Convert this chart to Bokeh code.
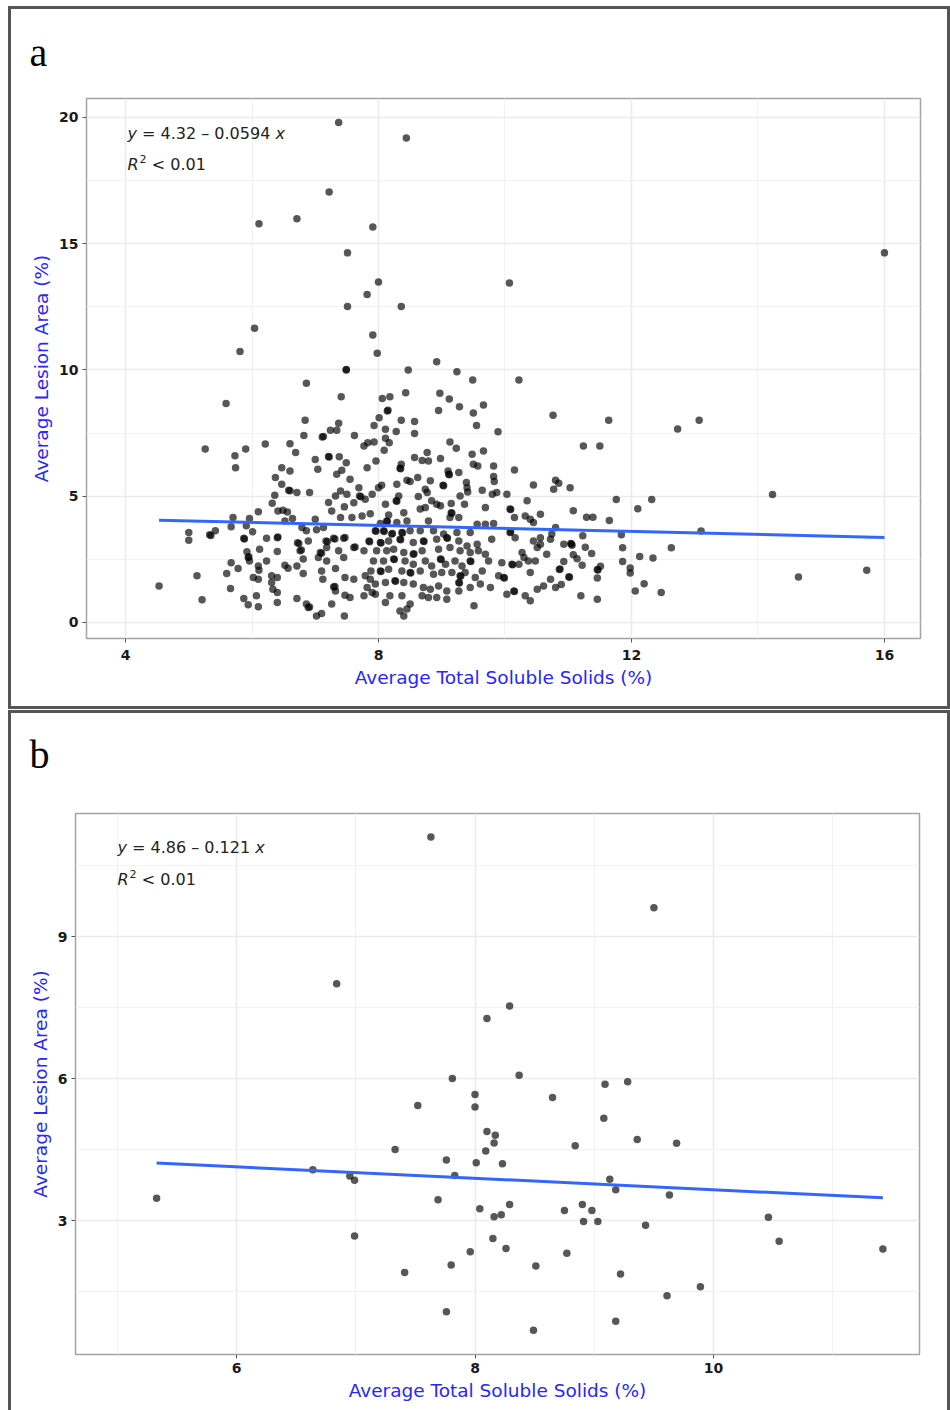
from bokeh.plotting import figure
from bokeh.models import FixedTicker, Label, LinearAxis, Spacer, Title
from bokeh.layouts import column, row
from bokeh.embed import file_html
from bokeh.resources import INLINE

# ---------------------------------------------------------------------------
# Panel a: average total soluble solids (%) vs average lesion area (%)
# ---------------------------------------------------------------------------
a_tss = [
    7.37, 8.44, 7.22, 6.11, 6.71, 7.91, 7.51, 16.00, 8.00, 10.07,
    7.82, 7.51, 8.36, 6.04, 7.91, 5.81, 7.49, 7.49, 6.86, 7.41,
    5.59, 6.84, 7.37, 7.24, 7.34, 6.82, 7.11, 7.13, 7.62, 7.93,
    7.77, 7.83, 7.93, 6.21, 5.26, 5.90, 5.73, 5.74, 6.60, 6.69,
    7.21, 7.22, 7.38, 7.49, 7.00, 7.04, 6.47, 6.60, 7.34, 7.42,
    7.82, 7.55, 6.37, 6.47, 6.58, 6.60, 6.71, 6.91, 6.36, 6.32,
    7.21, 7.32, 7.40, 7.50, 7.70, 7.72, 7.69, 7.79, 7.90, 7.46,
    7.61, 6.41, 6.49, 6.56, 6.10, 7.26, 7.40, 7.58, 7.74, 7.87,
    5.70, 5.96, 5.67, 5.91, 6.01, 6.64, 6.79, 6.86, 7.00, 7.02,
    7.13, 6.52, 5.00, 5.00, 5.33, 5.35, 5.42, 5.87, 5.88, 6.23,
    6.40, 6.41, 6.74, 6.72, 6.76, 6.78, 6.89, 7.17, 7.19, 7.18,
    7.29, 7.31, 7.45, 7.47, 7.61, 7.63, 7.77, 7.85, 7.86, 7.37,
    7.45, 6.12, 6.40, 5.92, 5.94, 5.95, 5.96, 7.08, 7.10, 7.05,
    7.18, 6.81, 5.67, 5.78, 5.60, 6.10, 6.11, 6.23, 6.52, 6.57,
    6.71, 6.81, 7.10, 7.12, 7.32, 7.47, 7.61, 7.79, 7.87, 5.13,
    6.02, 6.10, 6.31, 6.40, 6.31, 6.33, 6.40, 4.53, 5.66, 7.29,
    7.31, 7.32, 7.47, 7.55, 7.77, 6.07, 5.21, 5.87, 5.94, 6.10,
    6.40, 6.71, 6.86, 6.89, 6.91, 7.02, 7.10, 7.26, 7.46, 7.82,
    7.90, 7.98, 8.47, 8.92, 9.24, 9.49, 10.22, 8.43, 8.97, 9.12,
    8.06, 8.18, 9.28, 8.95, 9.66, 9.50, 9.55, 8.14, 8.15, 8.01,
    8.36, 8.57, 8.57, 8.11, 8.28, 9.89, 10.76, 9.13, 9.23, 8.11,
    8.17, 8.09, 8.77, 9.48, 9.66, 8.57, 8.69, 8.79, 8.98, 7.96,
    8.36, 8.34, 8.35, 9.50, 9.57, 9.82, 10.15, 9.10, 9.11, 9.12,
    9.27, 8.62, 8.50, 8.45, 8.82, 9.82, 9.83, 8.29, 9.02, 9.03,
    9.39, 9.40, 9.41, 8.05, 8.00, 8.74, 8.77, 8.32, 8.28, 8.29,
    8.63, 9.64, 9.80, 9.87, 10.03, 10.45, 10.80, 10.77, 9.29, 8.84,
    8.92, 8.98, 9.15, 9.36, 8.11, 8.16, 8.40, 8.66, 8.74, 9.15,
    9.16, 9.13, 9.27, 9.69, 10.08, 10.09, 10.15, 10.35, 10.56, 10.32,
    10.40, 10.45, 10.80, 8.03, 8.13, 8.14, 8.29, 8.45, 8.79, 9.56,
    9.69, 9.82, 7.95, 7.96, 8.08, 8.09, 8.21, 8.22, 8.37, 8.38,
    8.50, 8.66, 8.87, 9.03, 9.24, 9.45, 10.08, 10.09, 10.16, 10.56,
    10.72, 8.03, 8.04, 8.16, 8.34, 8.35, 8.55, 8.71, 8.72, 8.92,
    9.08, 9.09, 9.27, 9.40, 9.56, 9.79, 10.45, 10.56, 10.74, 7.97,
    8.13, 8.24, 8.40, 8.55, 8.56, 8.69, 8.95, 9.13, 9.29, 9.45,
    9.58, 9.69, 10.27, 10.30, 10.51, 10.66, 7.92, 8.08, 8.24, 8.25,
    8.42, 8.55, 8.74, 8.84, 8.98, 8.99, 9.06, 9.21, 9.32, 9.45,
    9.46, 9.74, 9.95, 10.11, 10.12, 10.22, 10.37, 10.48, 7.88, 8.03,
    8.04, 8.16, 8.37, 8.50, 8.51, 8.66, 8.87, 9.00, 9.16, 9.29,
    9.30, 9.37, 9.53, 9.64, 9.90, 9.98, 9.99, 10.40, 10.72, 7.95,
    8.11, 8.26, 8.27, 8.40, 8.55, 8.71, 8.82, 8.95, 9.08, 9.27,
    9.28, 9.27, 9.45, 9.61, 9.77, 10.03, 10.14, 10.15, 10.32, 10.40,
    10.51, 10.61, 10.80, 7.95, 8.11, 8.18, 8.37, 8.50, 8.45, 8.34,
    8.40, 8.69, 8.79, 8.92, 9.08, 9.51, 11.64, 12.73, 13.07, 11.24,
    11.50, 10.85, 11.03, 14.23, 11.76, 12.32, 12.10, 11.08, 11.29, 11.39,
    11.65, 11.23, 11.84, 13.10, 10.93, 11.04, 11.05, 11.06, 11.27, 11.86,
    12.63, 11.08, 11.14, 11.37, 10.93, 11.22, 11.86, 12.13, 12.34, 10.86,
    10.87, 11.01, 11.02, 10.89, 11.46, 11.47, 11.51, 11.46, 11.98, 11.98,
    12.06, 12.20, 12.47, 11.20, 11.46, 14.64, 15.72,
]
a_lesion = [
    19.80, 19.19, 17.05, 15.79, 15.99, 15.66, 14.64, 14.64, 13.48, 13.45,
    12.99, 12.51, 12.51, 11.65, 11.39, 10.73, 10.00, 10.02, 9.47, 8.94,
    8.67, 8.01, 7.89, 7.61, 7.61, 7.41, 7.35, 7.37, 7.41, 7.80,
    6.99, 7.12, 7.15, 7.07, 6.87, 6.87, 6.60, 6.13, 7.08, 6.73,
    6.57, 6.55, 6.56, 6.33, 6.46, 6.07, 6.13, 6.00, 5.87, 6.03,
    6.13, 5.67, 5.74, 5.47, 5.24, 5.22, 5.15, 5.15, 5.04, 4.72,
    4.75, 5.01, 5.21, 5.08, 5.01, 4.98, 5.34, 4.88, 5.08, 4.58,
    4.74, 4.42, 4.45, 4.38, 4.39, 4.42, 4.16, 4.16, 4.22, 4.31,
    4.16, 4.12, 3.79, 3.83, 3.59, 4.12, 3.76, 3.63, 4.09, 3.67,
    3.76, 4.02, 3.56, 3.26, 3.47, 3.45, 3.63, 3.34, 3.31, 3.34,
    3.36, 3.39, 3.13, 3.16, 2.84, 2.87, 3.23, 3.23, 3.20, 2.97,
    3.34, 3.31, 3.34, 3.37, 2.97, 2.99, 2.84, 3.23, 3.20, 2.84,
    2.57, 2.90, 2.81, 2.80, 2.57, 2.60, 2.44, 2.77, 2.74, 2.57,
    2.44, 2.51, 2.37, 2.14, 1.94, 2.24, 2.07, 2.44, 2.27, 2.15,
    2.24, 1.94, 2.04, 1.71, 2.14, 1.78, 1.71, 1.85, 1.71, 1.85,
    1.78, 1.71, 1.85, 1.78, 1.58, 1.32, 1.19, 1.45, 1.35, 1.41,
    1.43, 1.25, 1.08, 0.99, 1.06, 1.06, 0.90, 0.95, 0.70, 0.62,
    0.79, 0.95, 0.73, 0.59, 0.61, 0.26, 0.36, 0.73, 0.26, 1.39,
    1.19, 10.66, 10.00, 10.33, 9.93, 9.60, 9.60, 9.10, 9.08, 8.85,
    8.87, 8.94, 8.54, 8.40, 8.61, 8.30, 7.80, 8.38, 8.41, 8.11,
    8.01, 7.96, 7.48, 7.65, 7.56, 7.55, 8.21, 7.15, 6.90, 7.30,
    7.12, 6.82, 6.73, 6.66, 6.79, 6.53, 6.42, 6.40, 6.49, 6.40,
    6.27, 6.11, 6.09, 6.27, 6.20, 6.20, 6.04, 6.00, 5.87, 5.85,
    5.94, 5.74, 5.58, 5.63, 5.61, 5.78, 5.58, 5.47, 5.44, 5.42,
    5.54, 5.34, 5.17, 5.44, 5.34, 5.28, 5.15, 5.01, 4.82, 4.80,
    4.99, 5.24, 5.08, 5.15, 5.08, 5.45, 5.63, 5.28, 5.01, 4.82,
    4.68, 4.62, 4.71, 4.68, 4.68, 4.26, 4.35, 4.49, 4.55, 4.35,
    4.33, 4.16, 4.16, 4.55, 4.49, 4.47, 4.16, 4.82, 4.29, 4.22,
    4.09, 3.96, 3.76, 3.92, 4.02, 4.00, 3.96, 4.02, 4.02, 3.89,
    3.89, 3.92, 3.63, 3.61, 3.63, 3.60, 3.50, 3.52, 3.56, 3.54,
    3.63, 3.63, 3.63, 3.50, 3.56, 3.56, 3.56, 3.58, 3.36, 3.36,
    3.30, 3.17, 3.15, 3.23, 3.30, 3.28, 3.17, 3.23, 3.21, 3.30,
    3.36, 3.34, 3.23, 3.03, 3.10, 3.30, 3.23, 3.10, 3.50, 2.84,
    2.84, 2.90, 2.77, 2.70, 2.72, 2.84, 2.90, 2.97, 2.84, 2.77,
    2.84, 2.70, 2.77, 2.57, 2.97, 2.70, 2.44, 2.44, 2.51, 2.49,
    2.44, 2.31, 2.44, 2.24, 2.51, 2.49, 2.31, 2.44, 2.24, 2.44,
    2.42, 2.44, 2.37, 2.31, 2.29, 2.31, 2.44, 2.44, 2.04, 2.04,
    2.02, 2.11, 2.04, 1.98, 1.96, 2.04, 1.91, 1.98, 1.98, 1.85,
    1.83, 1.98, 1.78, 2.04, 1.85, 1.78, 1.76, 1.98, 1.71, 1.52,
    1.58, 1.65, 1.63, 1.58, 1.52, 1.39, 1.32, 1.45, 1.25, 1.58,
    1.56, 1.25, 1.39, 1.52, 1.39, 1.12, 1.25, 1.23, 1.06, 0.86,
    1.32, 1.45, 1.39, 1.12, 0.79, 1.06, 1.06, 0.73, 0.53, 0.46,
    0.26, 1.06, 0.99, 0.99, 0.92, 0.66, 8.01, 7.66, 8.01, 6.99,
    6.99, 5.51, 5.34, 5.07, 4.87, 4.87, 4.50, 4.43, 4.17, 4.17,
    4.04, 3.44, 3.47, 3.62, 3.10, 3.13, 3.11, 3.06, 2.98, 2.96,
    2.96, 2.68, 2.52, 2.73, 2.42, 2.27, 2.42, 2.61, 2.55, 2.10,
    2.12, 1.81, 1.79, 1.50, 2.10, 2.08, 2.23, 1.76, 2.16, 1.96,
    1.25, 1.53, 1.19, 1.06, 0.92, 1.80, 2.07,
]
a_intercept, a_slope = 4.32, -0.0594
a_eq = ("4.32", "0.0594")

# ---------------------------------------------------------------------------
# Panel b
# ---------------------------------------------------------------------------
b_tss = [
    7.63, 6.84, 8.10, 7.81, 8.00, 8.00, 7.52, 8.10, 8.17, 8.16,
    8.09, 7.33, 7.76, 8.01, 8.23, 6.64, 6.95, 6.99, 7.83, 5.33,
    7.69, 8.04, 8.16, 6.99, 8.15, 7.96, 7.80, 7.41, 7.76, 9.50,
    8.29, 8.37, 9.09, 9.28, 8.65, 9.08, 9.36, 9.69, 8.84, 9.13,
    9.18, 9.63, 8.29, 8.90, 8.75, 8.98, 8.91, 9.03, 9.43, 10.46,
    10.55, 11.42, 8.26, 8.77, 8.51, 9.22, 9.89, 9.61, 9.18, 8.49,
    8.22,
]
b_lesion = [
    11.10, 8.00, 7.27, 6.00, 5.66, 5.40, 5.43, 4.88, 4.80, 4.64,
    4.47, 4.50, 4.28, 4.22, 4.20, 4.07, 3.94, 3.85, 3.95, 3.47,
    3.44, 3.25, 3.08, 2.67, 2.62, 2.34, 2.06, 1.90, 1.07, 9.61,
    7.53, 6.07, 5.88, 5.93, 5.60, 5.16, 4.71, 4.63, 4.58, 3.87,
    3.65, 3.54, 3.34, 3.34, 3.21, 3.21, 2.98, 2.98, 2.90, 3.07,
    2.56, 2.40, 2.41, 2.31, 2.04, 1.87, 1.60, 1.41, 0.87, 0.68,
    3.12,
]
b_intercept, b_slope = 4.86, -0.121
b_eq = ("4.86", "0.121")

X_TITLE = "Average Total Soluble Solids (%)"
Y_TITLE = "Average Lesion Area (%)"

SANS = "DejaVu Sans"
SERIF = "Liberation Serif"
TITLE_BLUE = "#2626ff"
FIT_BLUE = "#3366FF"

# advance widths (em) of DejaVu Sans for the characters of the equations
ADV = {"0": .636, "1": .636, "2": .636, "3": .636, "4": .636, "5": .636,
       "6": .636, "7": .636, "8": .636, "9": .636, ".": .318, " ": .318,
       "=": .838, "\u2013": .5, "<": .838, "x": .592, "y": .592, "R": .695}


def text_width(s, size):
    return sum(ADV.get(c, .6) for c in s) * size


def add_text(p, x, y, text, size, style="normal", font=SANS, color="#222222"):
    p.add_layout(Label(x=x, y=y, x_units="screen", y_units="screen", text=text,
                       text_font=font, text_font_size=f"{size}px",
                       text_font_style=style, text_color=color,
                       text_baseline="alphabetic", text_align="left"))


def add_equation(p, x0, y_top, y_bot, coeffs):
    fs = 16
    sp = text_width(" ", fs)
    mid = f"= {coeffs[0]} \u2013 {coeffs[1]}"
    add_text(p, x0, y_top, "y", fs, "italic")
    x1 = x0 + text_width("y", fs) + sp
    add_text(p, x1, y_top, mid, fs)
    x2 = x1 + text_width(mid, fs) + sp
    add_text(p, x2, y_top, "x", fs, "italic")
    # R^2 < 0.01
    add_text(p, x0, y_bot, "R", fs, "italic")
    xs = x0 + text_width("R", fs) + 1
    add_text(p, xs, y_bot + 6, "2", 11)
    xr = xs + text_width("2", 11) + sp
    add_text(p, xr, y_bot, "< 0.01", fs)


def build_panel(tss, lesion, intercept, slope, coeffs, x_range, y_range,
                xticks, xminor, yticks, yminor, frame_w, frame_h, borders,
                letter, letter_offset, letter_lift, eq_xy, x_standoff,
                alpha, shadow):
    p = figure(frame_width=frame_w, frame_height=frame_h,
               x_range=x_range, y_range=y_range,
               min_border_left=borders[0], min_border_right=borders[1],
               min_border_top=borders[2], min_border_bottom=borders[3],
               output_backend="svg", toolbar_location=None, tools="")
    p.border_fill_color = None
    p.background_fill_color = "white"
    p.outline_line_color = "#a3a3a3"
    p.outline_line_width = 1.5
    p.styles = {"box-shadow": shadow}

    xax = p.below[0]
    yax = p.left[0]

    # a blank top axis (one unlabelled, undrawn tick) lifts the panel
    # letter away from the frame
    lift = LinearAxis(ticker=FixedTicker(ticks=[xticks[0]]),
                      major_label_overrides={xticks[0]: ""},
                      major_label_text_font_size="1px",
                      axis_line_color=None,
                      major_tick_line_color=None, minor_tick_line_color=None,
                      major_tick_out=letter_lift, major_tick_in=0,
                      minor_tick_out=0, minor_tick_in=0,
                      major_label_standoff=0)
    p.add_layout(lift, "above")

    # panel letter in the top-left corner
    p.title = Title(text=letter, text_font=SERIF, text_font_size="40px",
                    text_font_style="normal", text_color="black",
                    align="left", offset=letter_offset, standoff=0)

    xt = FixedTicker(ticks=xticks, minor_ticks=xminor)
    yt = FixedTicker(ticks=yticks, minor_ticks=yminor)
    xax.ticker = xt
    yax.ticker = yt
    p.xgrid.ticker = xt
    p.ygrid.ticker = yt
    for g in (p.xgrid, p.ygrid):
        g.grid_line_color = "#ebebeb"
        g.grid_line_width = 1.6
        g.minor_grid_line_color = "#f2f2f2"
        g.minor_grid_line_width = 1.2

    for ax in (xax, yax):
        ax.axis_line_color = None
        ax.major_tick_line_color = "#555555"
        ax.major_tick_line_width = 1
        ax.major_tick_out = 4
        ax.major_tick_in = 0
        ax.minor_tick_line_color = None
        ax.major_label_text_font = SANS
        ax.major_label_text_font_style = "bold"
        ax.major_label_text_font_size = "14px"
        ax.major_label_text_color = "#1a1a1a"
        ax.major_label_standoff = 4
        ax.axis_label_text_font = SANS
        ax.axis_label_text_font_style = "normal"
        ax.axis_label_text_font_size = "18.5px"
        ax.axis_label_text_color = TITLE_BLUE
        ax.axis_label_standoff = 4
    xax.major_label_standoff = x_standoff
    xax.axis_label = X_TITLE
    yax.axis_label = Y_TITLE

    p.scatter(tss, lesion, size=7.5, fill_color="black", fill_alpha=alpha,
              line_color=None)

    x_fit = [min(tss), max(tss)]
    y_fit = [intercept + slope * v for v in x_fit]
    p.line(x_fit, y_fit, line_color=FIT_BLUE, line_width=3)

    add_equation(p, eq_xy[0], eq_xy[1], eq_xy[2], coeffs)
    return p


pa = build_panel(a_tss, a_lesion, a_intercept, a_slope, a_eq,
                 (3.383, 16.57), (-0.634, 20.752),
                 [4, 8, 12, 16], [6, 10, 14],
                 [0, 5, 10, 15, 20], [2.5, 7.5, 12.5, 17.5],
                 834, 540, (78, 30, 92, 71),
                 "a", -57, 24, (41, 505, 474), 7, 0.66,
                 "inset 0 0 0 3px #555555")

pb = build_panel(b_tss, b_lesion, b_intercept, b_slope, b_eq,
                 (4.650, 11.727), (0.169, 11.599),
                 [6, 8, 10], [5, 7, 9, 11],
                 [3, 6, 9], [1.5, 4.5, 7.5, 10.5],
                 844, 541, (67, 31, 103, 56),
                 "b", -46, 37, (42, 507, 475), 4, 0.66,
                 "inset 3px 3px 0 0 #555555, inset -3px 0 0 0 #555555")

layout = column(Spacer(height=6),
                row(Spacer(width=8), pa),
                Spacer(height=1),
                row(Spacer(width=8), pb))

open("out.html", "w").write(file_html(layout, INLINE))
